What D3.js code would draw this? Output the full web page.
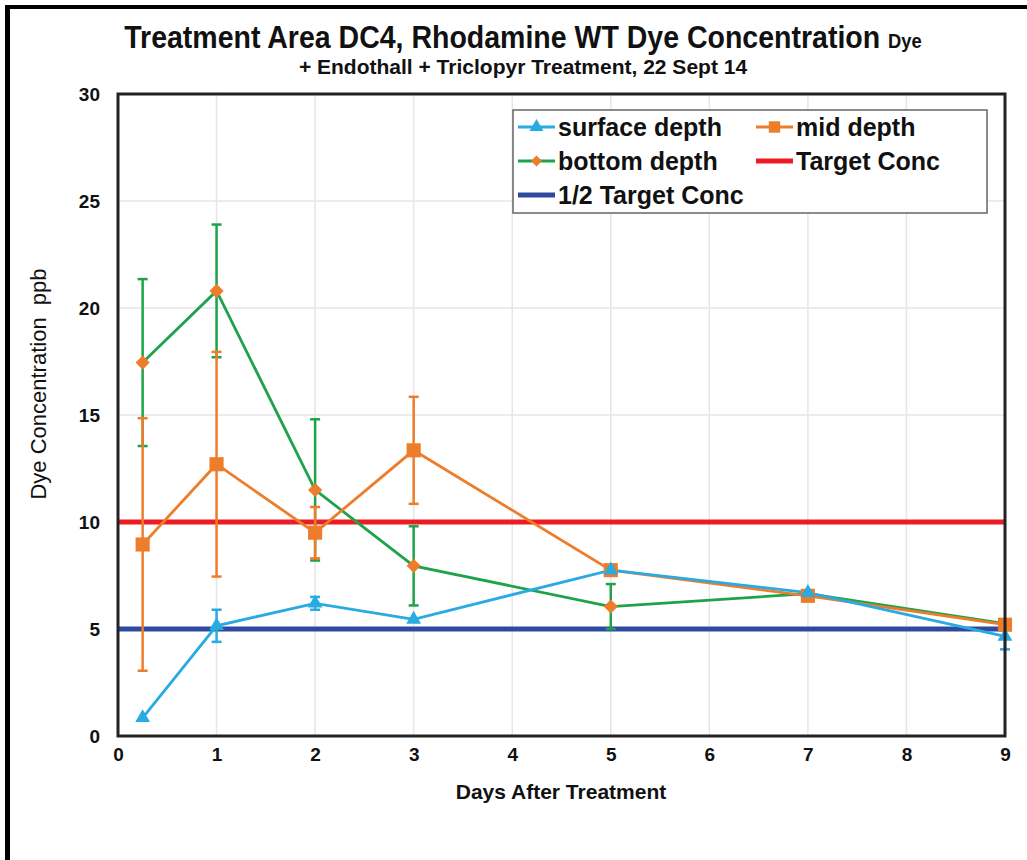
<!DOCTYPE html>
<html><head><meta charset="utf-8">
<script src="https://cdn.jsdelivr.net/npm/d3@7/dist/d3.min.js"></script>
<style>body{margin:0;background:#fff}svg{display:block}</style>
</head><body>
<svg id="c" width="1027" height="860"></svg>
<script>
const days = [0.25, 1, 2, 3, 5, 7, 9];
const surface = [0.85, 5.15, 6.2, 5.45, 7.75, 6.7, 4.65];
const surfaceErr = [0, 0.75, 0.3, 0, 0, 0, 0.6];
const mid = [8.95, 12.7, 9.5, 13.35, 7.75, 6.55, 5.2];
const midErr = [5.9, 5.25, 1.2, 2.5, 0, 0, 0];
const bottom = [17.45, 20.8, 11.5, 7.95, 6.05, 6.65, 5.25];
const bottomErr = [3.9, 3.1, 3.3, 1.85, 1.05, 0, 0];
const targetConc = 10;
const halfTarget = 5;
const xTicks = [0,1,2,3,4,5,6,7,8,9];
const yTicks = [0,5,10,15,20,25,30];

const svg = d3.select("#c");
const FONT = "'Liberation Sans', Arial, sans-serif";

// frame
svg.append("rect").attr("x",5).attr("y",5).attr("width",1022).attr("height",4).attr("fill","#000");
svg.append("rect").attr("x",5).attr("y",5).attr("width",5).attr("height",855).attr("fill","#000");

const x = d3.scaleLinear().domain([0,9]).range([118,1005]);
const y = d3.scaleLinear().domain([0,30]).range([736,94]);

// grid
svg.append("g").selectAll("line").data(xTicks.slice(1,-1)).join("line")
  .attr("x1",d=>x(d)).attr("x2",d=>x(d)).attr("y1",y(30)).attr("y2",y(0))
  .attr("stroke","#e6e6e6").attr("stroke-width",1.5);
svg.append("g").selectAll("line").data(yTicks.slice(1,-1)).join("line")
  .attr("y1",d=>y(d)).attr("y2",d=>y(d)).attr("x1",x(0)).attr("x2",x(9))
  .attr("stroke","#e6e6e6").attr("stroke-width",1.5);

// axes
const xAxis = svg.append("g").attr("transform",`translate(0,${y(0)})`)
  .call(d3.axisBottom(x).tickValues(xTicks).tickSize(0).tickPadding(12));
xAxis.select(".domain").remove();
xAxis.selectAll("text").attr("font-family",FONT).attr("font-weight","bold").attr("font-size",19).attr("fill","#111");
const yAxis = svg.append("g").attr("transform",`translate(${x(0)},0)`)
  .call(d3.axisLeft(y).tickValues(yTicks).tickSize(0).tickPadding(18));
yAxis.select(".domain").remove();
yAxis.selectAll("text").attr("font-family",FONT).attr("font-weight","bold").attr("font-size",19).attr("fill","#111");

// target lines
svg.append("line").attr("x1",x(0)).attr("x2",x(9)).attr("y1",y(targetConc)).attr("y2",y(targetConc))
  .attr("stroke","#ed1c24").attr("stroke-width",5);
svg.append("line").attr("x1",x(0)).attr("x2",x(9)).attr("y1",y(halfTarget)).attr("y2",y(halfTarget))
  .attr("stroke","#2e4a9e").attr("stroke-width",5);

function errBars(vals, errs, color){
  const g = svg.append("g").attr("stroke",color).attr("stroke-width",2.5);
  days.forEach((d,i)=>{
    if(!errs[i]) return;
    const cx = x(d), y1 = y(vals[i]+errs[i]), y2 = y(vals[i]-errs[i]);
    g.append("line").attr("x1",cx).attr("x2",cx).attr("y1",y1).attr("y2",y2);
    g.append("line").attr("x1",cx-5).attr("x2",cx+5).attr("y1",y1).attr("y2",y1);
    g.append("line").attr("x1",cx-5).attr("x2",cx+5).attr("y1",y2).attr("y2",y2);
  });
}
const line = d3.line().x((d,i)=>x(days[i])).y(d=>y(d));
function series(vals, color){
  svg.append("path").datum(vals).attr("d",line).attr("fill","none").attr("stroke",color).attr("stroke-width",2.8);
}
const C_S = "#29abe2", C_M = "#ee7d2b", C_B = "#1fa34a";

errBars(bottom,bottomErr,C_B);
errBars(mid,midErr,C_M);
errBars(surface,surfaceErr,C_S);
series(bottom,C_B);
series(mid,C_M);
series(surface,C_S);

const tri = d3.symbol().type(d3.symbolTriangle).size(95);
const sq = d3.symbol().type(d3.symbolSquare).size(200);
const dia = d3.symbol().type(d3.symbolSquare).size(100);
svg.append("g").selectAll("path").data(bottom).join("path")
  .attr("transform",(d,i)=>`translate(${x(days[i])},${y(d)}) rotate(45)`).attr("d",dia).attr("fill",C_M);
svg.append("g").selectAll("path").data(mid).join("path")
  .attr("transform",(d,i)=>`translate(${x(days[i])},${y(d)})`).attr("d",sq).attr("fill",C_M);
svg.append("g").selectAll("path").data(surface).join("path")
  .attr("transform",(d,i)=>`translate(${x(days[i])},${y(d)})`).attr("d",tri).attr("fill",C_S);

// plot border
svg.append("rect").attr("x",x(0)).attr("y",y(30)).attr("width",x(9)-x(0)).attr("height",y(0)-y(30))
  .attr("fill","none").attr("stroke","#222").attr("stroke-width",3);

// legend
const lg = svg.append("g");
lg.append("rect").attr("x",513).attr("y",110).attr("width",474).attr("height",103)
  .attr("fill","#fff").attr("stroke","#666").attr("stroke-width",1.5);
const legendItems = [
  {label:"surface depth", color:C_S, sym:"tri", lx:518, ly:127},
  {label:"mid depth", color:C_M, sym:"sq", lx:756, ly:127},
  {label:"bottom depth", color:C_B, sym:"dia", lx:518, ly:161},
  {label:"Target Conc", color:"#ed1c24", sym:null, lx:756, ly:161, w:5},
  {label:"1/2 Target Conc", color:"#2e4a9e", sym:null, lx:518, ly:195, w:5}
];
legendItems.forEach(it=>{
  lg.append("line").attr("x1",it.lx).attr("x2",it.lx+37).attr("y1",it.ly).attr("y2",it.ly)
    .attr("stroke",it.color).attr("stroke-width",it.w||3);
  if(it.sym==="tri") lg.append("path").attr("transform",`translate(${it.lx+18.5},${it.ly})`)
    .attr("d",d3.symbol().type(d3.symbolTriangle).size(85)).attr("fill",C_S);
  if(it.sym==="sq") lg.append("path").attr("transform",`translate(${it.lx+18.5},${it.ly})`)
    .attr("d",d3.symbol().type(d3.symbolSquare).size(130)).attr("fill",C_M);
  if(it.sym==="dia") lg.append("path").attr("transform",`translate(${it.lx+18.5},${it.ly}) rotate(45)`)
    .attr("d",d3.symbol().type(d3.symbolSquare).size(60)).attr("fill",C_M);
  lg.append("text").attr("x",it.lx+40).attr("y",it.ly).attr("dy","0.35em")
    .attr("font-family",FONT).attr("font-weight","bold").attr("font-size",25).attr("fill","#111").text(it.label);
});

// titles
const tg = svg.append("g").attr("transform","translate(523,48) scale(0.92,1)");
const t = tg.append("text").attr("x",0).attr("y",0).attr("text-anchor","middle")
  .attr("font-family",FONT).attr("font-weight","bold").attr("fill","#111");
t.append("tspan").attr("font-size",31).text("Treatment Area DC4, Rhodamine WT Dye Concentration ");
t.append("tspan").attr("font-size",20).text("Dye");
svg.append("text").attr("x",523).attr("y",74).attr("text-anchor","middle")
  .attr("font-family",FONT).attr("font-weight","bold").attr("font-size",21).attr("fill","#111")
  .text("+ Endothall + Triclopyr Treatment, 22 Sept 14");
svg.append("text").attr("x",561).attr("y",799).attr("text-anchor","middle")
  .attr("font-family",FONT).attr("font-weight","bold").attr("font-size",21).attr("fill","#111")
  .text("Days After Treatment");
svg.append("text").attr("transform","translate(46,384) rotate(-90)").attr("text-anchor","middle")
  .attr("font-family",FONT).attr("font-size",22).attr("fill","#111").style("white-space","pre")
  .text("Dye Concentration  ppb");
</script>
</body></html>
